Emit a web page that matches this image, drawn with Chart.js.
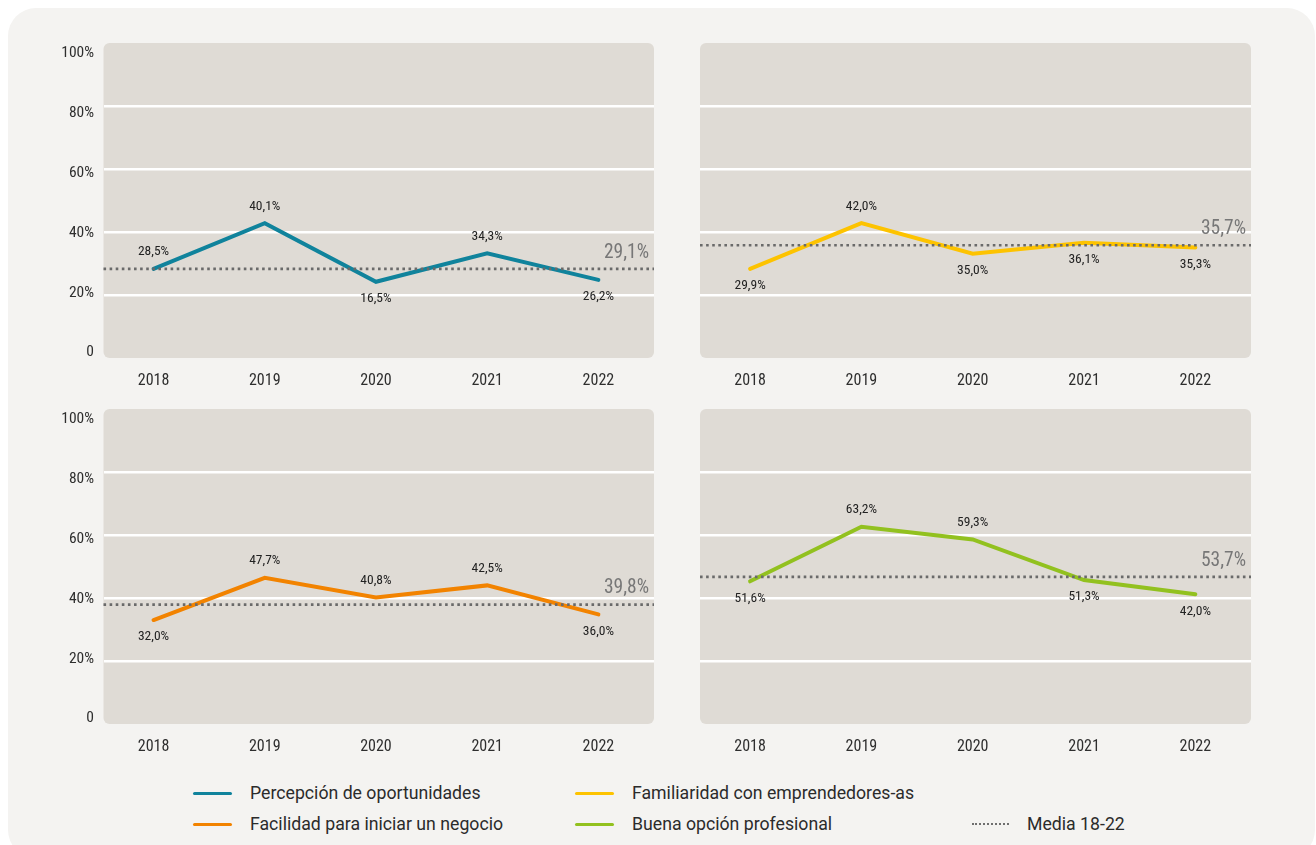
<!DOCTYPE html>
<html>
<head>
<meta charset="utf-8">
<script src="https://cdn.jsdelivr.net/npm/chart.js@4.4.1/dist/chart.umd.min.js"></script>
<style>
  html, body { margin: 0; padding: 0; background: #ffffff; width: 1316px; height: 845px; overflow: hidden; }
  #card { position: absolute; left: 8px; top: 8px; width: 1307px; height: 850px; background: #f4f3f1; border-radius: 28px; }
  canvas { position: absolute; }
  .lg { position: absolute; font-family: Roboto, "Noto Sans", sans-serif; font-size: 17.7px; color: #2b2b2b; line-height: 20px; white-space: nowrap; }
  .sw { position: absolute; height: 3px; border-radius: 2px; }
  .swd { position: absolute; height: 0; border-top: 2px dotted #6f6f6f; }
</style>
</head>
<body>
<div id="card"></div>
<canvas id="c1" width="620" height="370" style="left:40px;top:30px"></canvas>
<canvas id="c2" width="580" height="370" style="left:680px;top:30px"></canvas>
<canvas id="c3" width="620" height="370" style="left:40px;top:396px"></canvas>
<canvas id="c4" width="580" height="370" style="left:680px;top:396px"></canvas>
<div id="legend"></div>
<script>
// ---- data ----
const years = ['2018', '2019', '2020', '2021', '2022'];
const yTickValues = [0, 20, 40, 60, 80, 100];

const percepcion = [28.3, 42.8, 24.2, 33.2, 24.8];
const percepcionLabels = ['28,5%', '40,1%', '16,5%', '34,3%', '26,2%'];
const percepcionMedia = 28.3;
const percepcionMediaLabel = '29,1%';

const familiaridad = [28.3, 42.8, 33.1, 36.6, 35.1];
const familiaridadLabels = ['29,9%', '42,0%', '35,0%', '36,1%', '35,3%'];
const familiaridadMedia = 35.8;
const familiaridadMediaLabel = '35,7%';

const facilidad = [33.0, 46.4, 40.2, 44.0, 34.8];
const facilidadLabels = ['32,0%', '47,7%', '40,8%', '42,5%', '36,0%'];
const facilidadMedia = 37.9;
const facilidadMediaLabel = '39,8%';

const buena = [45.3, 62.6, 58.6, 45.7, 41.2];
const buenaLabels = ['51,6%', '63,2%', '59,3%', '51,3%', '42,0%'];
const buenaMedia = 46.7;
const buenaMediaLabel = '53,7%';

const seriesNames = ['Percepción de oportunidades', 'Familiaridad con emprendedores-as', 'Facilidad para iniciar un negocio', 'Buena opción profesional'];
const mediaName = 'Media 18-22';

// ---- styles ----
const colors = ['#10839c', '#fdc300', '#f28300', '#92c11f'];
const labelSide = [
  ['a', 'a', 'b', 'a', 'b'],
  ['b', 'a', 'b', 'b', 'b'],
  ['b', 'a', 'a', 'a', 'b'],
  ['b', 'a', 'a', 'b', 'b']
];
const FAM = 'Roboto, "Open Sans", sans-serif';

const panelPlugin = {
  id: 'panel',
  beforeDraw(chart) {
    const a = chart.chartArea, ctx = chart.ctx;
    ctx.save();
    ctx.fillStyle = '#dfdbd5';
    ctx.beginPath();
    ctx.roundRect(a.left, a.top, a.right - a.left, a.bottom - a.top, 6);
    ctx.fill();
    ctx.restore();
  }
};

const overlayPlugin = {
  id: 'overlay',
  afterDatasetsDraw(chart, args, opts) {
    const ctx = chart.ctx, a = chart.chartArea;
    const yS = chart.scales.y;
    const my = yS.getPixelForValue(opts.media);
    ctx.save();
    ctx.strokeStyle = '#6a6a6a';
    ctx.lineWidth = 2.6;
    ctx.setLineDash([2.6, 3.5]);
    ctx.beginPath();
    ctx.moveTo(a.left, my);
    ctx.lineTo(a.right, my);
    ctx.stroke();
    ctx.setLineDash([]);
    ctx.fillStyle = '#777777';
    ctx.font = 'condensed 19.5px ' + FAM;
    ctx.textAlign = 'right';
    ctx.textBaseline = 'middle';
    ctx.fillText(opts.mediaLabel, a.right - 5, my - 16);
    const meta = chart.getDatasetMeta(0);
    ctx.fillStyle = '#222222';
    ctx.font = 'condensed 13.5px ' + FAM;
    ctx.textAlign = 'center';
    meta.data.forEach((pt, i) => {
      const dy = opts.sides[i] === 'a' ? -17 : 17;
      ctx.fillText(opts.labels[i], pt.x, pt.y + dy);
    });
    ctx.restore();
  }
};

function zeroPad(s) { s.paddingTop = 0; s.paddingBottom = 0; s.paddingLeft = 0; s.paddingRight = 0; }

function makeChart(id, values, labels, media, mediaLabel, color, sides, withYLabels) {
  const scales = {
    x: {
      type: 'linear', min: -0.45, max: 4.5,
      afterBuildTicks: s => { s.ticks = years.map((_, i) => ({ value: i })); },
      afterFit: s => { s.height = 42; zeroPad(s); },
      grid: { display: false, drawTicks: false },
      border: { display: false },
      ticks: { padding: 13, color: '#2e2e2e', font: { family: FAM, size: 16, weight: 'condensed' }, callback: v => years[v] }
    },
    y: {
      min: 0, max: 100,
      afterBuildTicks: s => { s.ticks = yTickValues.map(v => ({ value: v })); },
      afterFit: s => { s.width = 0; zeroPad(s); },
      border: { display: false },
      grid: {
        drawTicks: false, lineWidth: 2.5,
        color: ctx => (ctx.tick && (ctx.tick.value === 0 || ctx.tick.value === 100)) ? 'rgba(0,0,0,0)' : '#ffffff'
      },
      ticks: { display: false }
    }
  };
  if (withYLabels) {
    scales.yl = {
      position: 'left', min: -1.84, max: 103.5,
      afterBuildTicks: s => { s.ticks = yTickValues.map(v => ({ value: v })); },
      afterFit: s => { s.width = 63.5; zeroPad(s); },
      grid: { display: false, drawTicks: false },
      border: { display: false },
      ticks: { padding: 9.5, color: '#2e2e2e', font: { family: FAM, size: 15.5, weight: 'condensed' }, callback: v => v === 0 ? '0' : v + '%' }
    };
  }
  return new Chart(document.getElementById(id), {
    type: 'line',
    data: {
      datasets: [{
        data: values.map((v, i) => ({ x: i, y: v })),
        borderColor: color, borderWidth: 4, pointRadius: 0, tension: 0,
        borderCapStyle: 'round', borderJoinStyle: 'miter', fill: false
      }]
    },
    options: {
      responsive: false, animation: false, devicePixelRatio: 1,
      layout: { padding: withYLabels ? { left: 0, right: 6, top: 13, bottom: 0 } : { left: 20, right: 9, top: 13, bottom: 0 } },
      plugins: {
        legend: { display: false }, tooltip: { enabled: false },
        overlay: { media: media, mediaLabel: mediaLabel, labels: labels, sides: sides }
      },
      scales: scales
    },
    plugins: [panelPlugin, overlayPlugin]
  });
}

makeChart('c1', percepcion, percepcionLabels, percepcionMedia, percepcionMediaLabel, colors[0], labelSide[0], true);
makeChart('c2', familiaridad, familiaridadLabels, familiaridadMedia, familiaridadMediaLabel, colors[1], labelSide[1], false);
makeChart('c3', facilidad, facilidadLabels, facilidadMedia, facilidadMediaLabel, colors[2], labelSide[2], true);
makeChart('c4', buena, buenaLabels, buenaMedia, buenaMediaLabel, colors[3], labelSide[3], false);

// ---- legend (HTML text) ----
const lg = document.getElementById('legend');
const legendPos = [
  { sx: 193, tx: 250, y: 793 },
  { sx: 575, tx: 632, y: 793 },
  { sx: 193, tx: 250, y: 824 },
  { sx: 575, tx: 632, y: 824 }
];
seriesNames.forEach((name, i) => {
  const p = legendPos[i];
  const sw = document.createElement('div');
  sw.className = 'sw';
  sw.style.cssText = `left:${p.sx}px;top:${p.y - 1.5}px;width:39px;background:${colors[i]}`;
  lg.appendChild(sw);
  const t = document.createElement('div');
  t.className = 'lg';
  t.style.cssText = `left:${p.tx}px;top:${p.y - 10}px`;
  t.textContent = name;
  lg.appendChild(t);
});
const md = document.createElement('div');
md.className = 'swd';
md.style.cssText = 'left:972px;top:823px;width:37px';
lg.appendChild(md);
const mt = document.createElement('div');
mt.className = 'lg';
mt.style.cssText = 'left:1027px;top:814px';
mt.textContent = mediaName;
lg.appendChild(mt);
</script>
</body>
</html>
